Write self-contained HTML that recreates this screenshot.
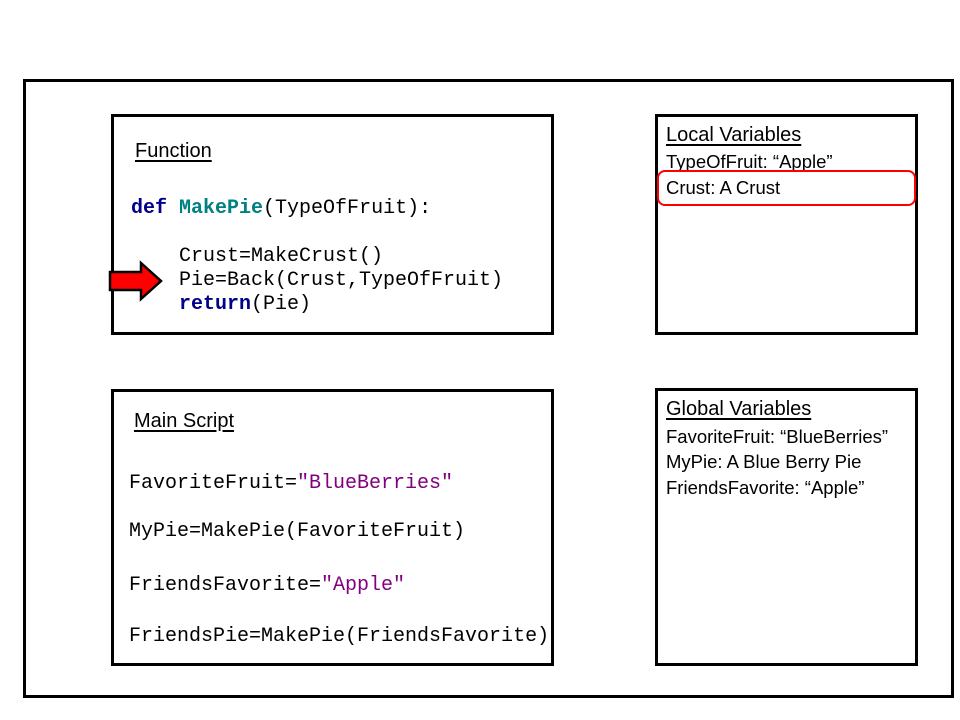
<!DOCTYPE html>
<html><head><style>
body{margin:0;width:960px;height:720px;background:#fff;position:relative;overflow:hidden;font-family:"Liberation Sans",sans-serif;}
.b{position:absolute;border:3px solid #000;box-sizing:border-box;}
.t{position:absolute;font-size:18.5px;color:#000;white-space:nowrap;line-height:1;}
.c{position:absolute;font-family:"Liberation Mono",monospace;font-size:20px;white-space:nowrap;line-height:1;color:#000;}
u{text-decoration:underline;text-underline-offset:3px;}
.k{color:#00008b;font-weight:bold}.f{color:#008080;font-weight:bold}.s{color:#800080}
</style></head><body>
<div class="b" style="left:23px;top:79px;width:931px;height:619px"></div>
<div class="b" style="left:111px;top:114px;width:443px;height:221px"></div>
<div class="b" style="left:655px;top:114px;width:263px;height:221px"></div>
<div class="b" style="left:111px;top:389px;width:443px;height:277px"></div>
<div class="b" style="left:655px;top:388px;width:263px;height:278px"></div>

<div class="t" style="left:135px;top:141px;font-size:20px"><u>Function</u></div>
<div class="c" style="left:131px;top:199px"><span class="k">def</span> <span class="f">MakePie</span>(TypeOfFruit):</div>
<div class="c" style="left:179px;top:247px">Crust=MakeCrust()</div>
<div class="c" style="left:179px;top:271px">Pie=Back(Crust,TypeOfFruit)</div>
<div class="c" style="left:179px;top:295px"><span class="k">return</span>(Pie)</div>
<svg style="position:absolute;left:107px;top:260px" width="58" height="42"><polygon points="3,12 34,12 34,3 54,21 34,39 34,30 3,30" fill="#f00" stroke="#000" stroke-width="2.5"/></svg>

<div class="t" style="left:666px;top:125px;font-size:20px"><u>Local Variables</u></div>
<div class="t" style="left:666px;top:153px">TypeOfFruit: “Apple”</div>
<div style="position:absolute;left:657px;top:170px;width:259px;height:36px;border:2.5px solid #f00;border-radius:8px;box-sizing:border-box"></div>
<div class="t" style="left:666px;top:179px">Crust: A Crust</div>

<div class="t" style="left:134px;top:411px;font-size:20px"><u>Main Script</u></div>
<div class="c" style="left:129px;top:474px">FavoriteFruit=<span class="s">"BlueBerries"</span></div>
<div class="c" style="left:129px;top:522px">MyPie=MakePie(FavoriteFruit)</div>
<div class="c" style="left:129px;top:576px">FriendsFavorite=<span class="s">"Apple"</span></div>
<div class="c" style="left:129px;top:627px">FriendsPie=MakePie(FriendsFavorite)</div>

<div class="t" style="left:666px;top:399px;font-size:20px"><u>Global Variables</u></div>
<div class="t" style="left:666px;top:428px">FavoriteFruit: “BlueBerries”</div>
<div class="t" style="left:666px;top:453px">MyPie: A Blue Berry Pie</div>
<div class="t" style="left:666px;top:479px">FriendsFavorite: “Apple”</div>
</body></html>
